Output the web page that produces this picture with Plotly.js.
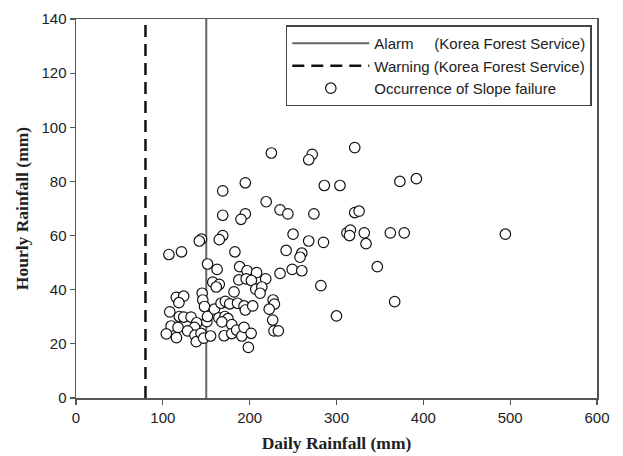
<!DOCTYPE html>
<html>
<head>
<meta charset="utf-8">
<script src="https://cdn.plot.ly/plotly-3.0.1.min.js"></script>
<style>html,body{margin:0;padding:0;background:#fff;}#chart{width:623px;height:456px;}</style>
</head>
<body>
<div id="chart"></div>
<script>
// Threshold lines (Korea Forest Service)
const alarmDaily = 150;
const warningDaily = 80;
const yRange = [0, 140];

// Occurrence of slope failure: daily rainfall (mm) vs hourly rainfall (mm)
const dailyRain = [
  225,272,268,321,195,169,286,304,373,392,
  219,235,244,274,321,326,169,195,190,250,
  268,285,312,316,315,332,362,378,334,494.5,
  169,165,144.5,142,183,242,260,258,107,121.5,
  151.5,162.5,188.5,197,208,235,249,260,347,282,
  367,300,227,228.5,222.5,226.5,228,233,187.5,196,
  202,207,218.5,214,212,157.5,165,161.5,182,115.5,
  124,118.5,145.3,146,148,108,119,124,132.5,139,
  136.5,109.5,117.5,104,115.7,128.5,137,138.5,144,147,
  155,150.7,151.4,159.4,167,172,177,186,193.5,195,
  203.5,164.5,171.5,175,168,179.4,170.6,179.4,185,191,
  193.5,201.7,198.5
];
const hourlyRain = [
  90.5,90,88,92.5,79.5,76.5,78.5,78.5,80,81,
  72.5,69.5,68,68,68.5,69,67.5,68,66,60.5,
  58,57.5,61,62,60,61,61,61,57,60.5,
  60,58.5,58.7,58,54,54.5,53.5,52,53,54,
  49.5,47.5,48.5,47,46.3,46,47.5,47,48.5,41.5,
  35.6,30.3,36.2,34.7,32.8,28.8,24.8,24.8,43.6,44,
  43.4,40.2,44,41,38.7,42.8,42,41,39.2,37.2,
  37.6,35.2,38.7,36.2,33.8,31.8,30.1,29.9,29.9,27.8,
  26.1,26.6,26.1,23.7,22.3,24.8,23.2,20.8,23.9,22.1,
  22.9,28.2,30.1,32.8,35,35.7,34.8,35,34,32.5,
  34,29.6,30.1,29.3,28.1,27.1,23,23.8,25.1,22.9,
  26.1,23.9,18.7
];

const legendNames = [
  "Alarm\u00A0\u00A0\u00A0\u00A0\u00A0(Korea Forest Service)",
  "Warning (Korea Forest Service)",
  "Occurrence of Slope failure"
];

const traces = [
  {
    x: [alarmDaily, alarmDaily], y: yRange, mode: "lines", name: legendNames[0],
    line: {color: "#666666", width: 2}, hoverinfo: "skip"
  },
  {
    x: [warningDaily, warningDaily], y: yRange, mode: "lines", name: legendNames[1],
    line: {color: "#111111", width: 2.5, dash: "12px,7px"}, hoverinfo: "skip"
  },
  {
    x: dailyRain, y: hourlyRain, mode: "markers", name: legendNames[2],
    marker: {symbol: "circle", size: 10.5, color: "rgba(255,255,255,1)", line: {color: "#111111", width: 1.2}}
  }
];

const axisCommon = {
  showgrid: false, zeroline: false, showline: true, mirror: true,
  linecolor: "#555555", linewidth: 1.5,
  ticks: "outside", ticklen: 5, tickwidth: 1.2, tickcolor: "#555555",
  tickfont: {family: "Liberation Sans, Arial, sans-serif", size: 15, color: "#222"}
};

const layout = {
  width: 623, height: 456,
  margin: {l: 76, r: 26, t: 19, b: 58},
  paper_bgcolor: "#fff", plot_bgcolor: "#fff",
  showlegend: true,
  xaxis: Object.assign({}, axisCommon, {
    range: [0, 600], tickvals: [0,100,200,300,400,500,600],
    title: {text: "<b>Daily Rainfall (mm)</b>", standoff: 12,
      font: {family: "Liberation Serif, Times New Roman, serif", size: 17.5, color: "#222"}}
  }),
  yaxis: Object.assign({}, axisCommon, {
    range: yRange, tickvals: [0,20,40,60,80,100,120,140],
    title: {text: "<b>Hourly Rainfall (mm)</b>", standoff: 8,
      font: {family: "Liberation Serif, Times New Roman, serif", size: 17.5, color: "#222"}}
  }),
  legend: {
    x: 0.99, xanchor: "right", y: 0.983, yanchor: "top",
    bgcolor: "#fff", bordercolor: "#444", borderwidth: 1.5,
    itemwidth: 77, tracegroupgap: 0,
    font: {family: "Liberation Sans, Arial, sans-serif", size: 15, color: "#222"}
  }
};

Plotly.newPlot("chart", traces, layout, {staticPlot: true, displayModeBar: false});
</script>
</body>
</html>
